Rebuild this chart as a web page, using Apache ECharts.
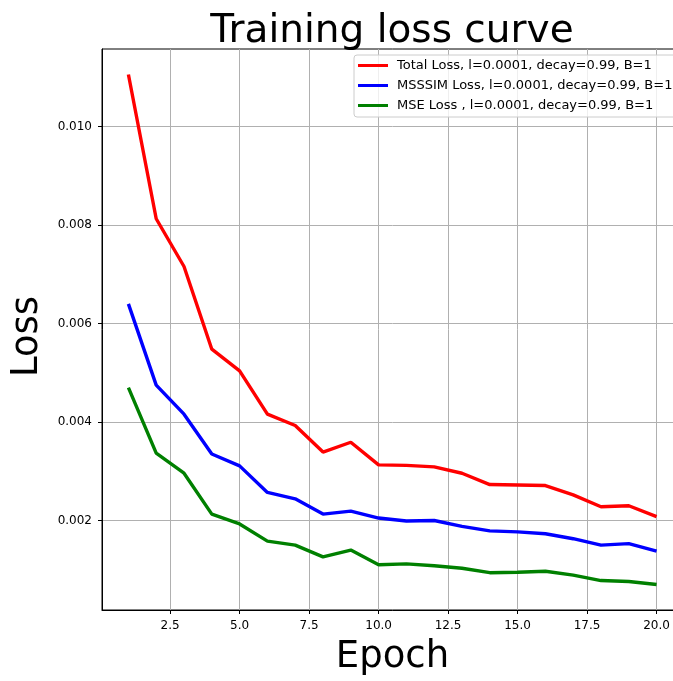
<!DOCTYPE html>
<html>
<head>
<meta charset="utf-8">
<script src="https://cdn.jsdelivr.net/npm/echarts@6/dist/echarts.min.js"></script>
<style>
html,body{margin:0;padding:0;background:#fff;overflow:hidden;}
#chart{width:690px;height:681px;}
</style>
</head>
<body>
<div id="chart"></div>
<script>
const epochs = [1,2,3,4,5,6,7,8,9,10,11,12,13,14,15,16,17,18,19,20];
const totalLoss = [0.01106,0.00813,0.00716,0.00548,0.00504,0.00416,0.00393,0.00339,0.00359,0.00313,0.00312,0.00309,0.00296,0.00273,0.00272,0.00271,0.00252,0.00228,0.00230,0.00208];
const msssimLoss = [0.00640,0.00475,0.00416,0.00335,0.00311,0.00257,0.00244,0.00213,0.00219,0.00205,0.00199,0.00200,0.00188,0.00179,0.00177,0.00173,0.00163,0.00150,0.00153,0.00138];
const mseLoss = [0.00470,0.00337,0.00296,0.00213,0.00193,0.00158,0.00150,0.00126,0.00140,0.00110,0.00112,0.00108,0.00103,0.00094,0.00095,0.00097,0.00089,0.00078,0.00076,0.00070];
const xTicks = [2.5,5.0,7.5,10.0,12.5,15.0,17.5,20.0];
const yTicks = [0.002,0.004,0.006,0.008,0.010];
const seriesNames = ['Total Loss, l=0.0001, decay=0.99, B=1','MSSSIM Loss, l=0.0001, decay=0.99, B=1','MSE Loss , l=0.0001, decay=0.99, B=1'];
const colors = ['#ff0000','#0000ff','#008000'];

const font = 'DejaVu Sans';
const allVals = totalLoss.concat(msssimLoss, mseLoss);
const ymin0 = Math.min(...allVals), ymax0 = Math.max(...allVals);
const ypad = (ymax0 - ymin0) * 0.05;
const xpad = (epochs[epochs.length-1] - epochs[0]) * 0.05;

function pairs(vals){ return epochs.map((e,i)=>[e, vals[i]]); }

const chart = echarts.init(document.getElementById('chart'), null, {renderer:'canvas'});
chart.setOption({
  animation: false,
  backgroundColor: '#fff',
  title: {
    text: 'Training loss curve',
    left: 387, textAlign: 'center', top: 7,
    textStyle: {fontFamily: font, fontSize: 39, fontWeight: 'normal', color: '#000'}
  },
  legend: {
    orient: 'vertical', left: 354, top: 55,
    padding: [4, 12, 5, 4],
    itemWidth: 30, itemHeight: 3, itemGap: 7,
    icon: 'rect',
    borderColor: '#cccccc', borderWidth: 1, borderRadius: 3,
    backgroundColor: 'rgba(255,255,255,0.8)',
    textStyle: {fontFamily: font, fontSize: 13, color: '#000', padding: [0,0,0,4]},
    data: seriesNames
  },
  grid: {left: 102, right: 7, top: 49, bottom: 66, show: true, borderColor: '#000', borderWidth: 1, backgroundColor: 'transparent'},
  xAxis: {
    type: 'value', min: epochs[0] - xpad, max: epochs[epochs.length-1] + xpad,
    name: 'Epoch', nameLocation: 'middle', nameGap: 29,
    nameTextStyle: {fontFamily: font, fontSize: 37, color: '#000', verticalAlign: 'top'},
    axisLine: {show: true, lineStyle: {color: '#000', width: 1}},
    axisTick: {show: true, inside: false, length: 4, lineStyle: {color: '#000'}, customValues: xTicks},
    axisLabel: {customValues: xTicks, fontFamily: font, fontSize: 12, color: '#000', margin: 10, formatter: v => v.toFixed(1), showMinLabel: true, showMaxLabel: true},
    splitLine: {show: true, lineStyle: {color: '#b0b0b0', width: 1}}
  },
  yAxis: {
    type: 'value', min: ymin0 - ypad, max: ymax0 + ypad,
    name: 'Loss', nameLocation: 'middle', nameGap: 56, nameRotate: 90,
    nameTextStyle: {fontFamily: font, fontSize: 37, color: '#000', padding: [0, 14, 0, 0]},
    axisLine: {show: true, lineStyle: {color: '#000', width: 1}},
    axisTick: {show: true, inside: false, length: 4, lineStyle: {color: '#000'}, customValues: yTicks},
    axisLabel: {customValues: yTicks, fontFamily: font, fontSize: 12, color: '#000', margin: 10, formatter: v => v.toFixed(3)},
    splitLine: {show: true, lineStyle: {color: '#b0b0b0', width: 1}}
  },
  series: [totalLoss, msssimLoss, mseLoss].map((vals, i) => ({
    type: 'line', name: seriesNames[i], data: pairs(vals),
    showSymbol: false, symbol: 'none',
    lineStyle: {color: colors[i], width: 3.4},
    itemStyle: {color: colors[i]},
    z: 3 + i
  }))
});
</script>
</body>
</html>
